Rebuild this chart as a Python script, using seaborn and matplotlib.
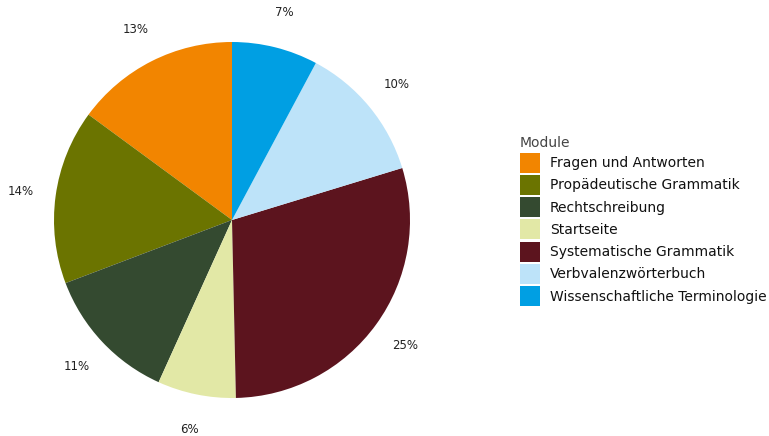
import matplotlib
matplotlib.use("Agg")
import matplotlib.pyplot as plt
import seaborn as sns

modules = ["Fragen und Antworten", "Propädeutische Grammatik", "Rechtschreibung",
           "Startseite", "Systematische Grammatik", "Verbvalenzwörterbuch",
           "Wissenschaftliche Terminologie"]
shares = [12.8, 13.6, 10.7, 6.1, 25.2, 10.7, 6.7]
pct_labels = ["13%", "14%", "11%", "6%", "25%", "10%", "7%"]
colors = ["#F28500", "#6B7400", "#344A30", "#E2E8A6", "#5C141E", "#BDE3F9", "#009FE3"]

sns.set_theme(style="white")
plt.rcParams['font.family'] = ['DejaVu Sans']

W, H = 769, 436
fig = plt.figure(figsize=(W / 100, H / 100), dpi=100)
cx, cy, r = 232, 220, 178
xl, yl = 1.30, 1.22
ax = fig.add_axes([(cx - xl * r) / W, (H - cy - yl * r) / H, 2 * xl * r / W, 2 * yl * r / H])

wedges, texts = ax.pie(shares, colors=sns.color_palette(colors), startangle=90,
                       counterclock=True, labels=pct_labels, labeldistance=1.2,
                       wedgeprops=dict(linewidth=0),
                       textprops=dict(fontsize=8.5, color="#222222"))
for t in texts:
    t.set_horizontalalignment("center")
    t.set_verticalalignment("center")
    t.set_clip_on(False)
ax.set_xlim(-xl, xl)
ax.set_ylim(-yl, yl)
ax.set_aspect("auto")
ax.axis("off")

leg = fig.legend(wedges, modules, title="Module", loc="center left",
                 bbox_to_anchor=(514.5 / W, 0.4925), frameon=False, fontsize=10,
                 title_fontsize=10, handlelength=1.44, handleheight=1.84,
                 labelspacing=0.16, handletextpad=0.72, borderaxespad=0)
leg._legend_box.align = "left"
leg.get_title().set_color("#444444")
for t in leg.get_texts():
    t.set_color("#111111")

fig.savefig("out.png", dpi=100)
